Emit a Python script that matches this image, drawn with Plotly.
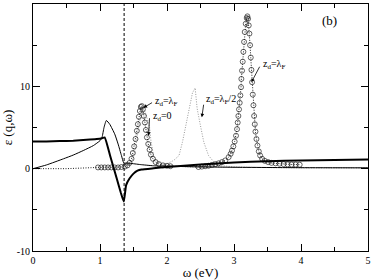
import plotly.graph_objects as go

# ---- data ----
re_x = [0.0, 0.2, 0.4, 0.6, 0.8, 0.95, 1.03, 1.07, 1.15, 1.25, 1.31, 1.355,
        1.39, 1.44, 1.5, 1.56, 1.62, 1.8, 2.0, 2.5, 3.0, 3.5, 4.0, 4.5, 5.0]
re_y = [3.3, 3.3, 3.35, 3.4, 3.5, 3.6, 3.7, 3.8, 1.6, -1.2, -2.9, -4.0,
        -2.0, -1.2, -0.6, -0.25, -0.1, 0.05, 0.2, 0.5, 0.75, 0.9, 1.0, 1.05, 1.1]

im_x = [0.0, 0.2, 0.455, 0.6, 0.75, 0.9, 1.0, 1.03, 1.06, 1.095, 1.145, 1.22,
        1.27, 1.32, 1.355, 1.4, 1.45, 1.6, 1.8, 2.0, 2.5, 3.0, 4.0, 5.0]
im_y = [0.0, 0.45, 1.2, 1.65, 2.2, 2.8, 3.4, 3.8, 5.0, 5.85, 5.4, 4.2,
        3.0, 1.6, 0.7, 0.68, 0.65, 0.5, 0.35, 0.3, 0.22, 0.17, 0.12, 0.1]

circ_x = [0.0, 0.5, 0.97, 1.02, 1.07, 1.12, 1.17, 1.22, 1.27, 1.32, 1.37, 1.41,
          1.44, 1.47, 1.49, 1.51, 1.53, 1.55, 1.565, 1.58, 1.595, 1.61, 1.625,
          1.64, 1.655, 1.67, 1.685, 1.70, 1.72, 1.74, 1.76, 1.79, 1.83, 1.88,
          1.94, 2.0, 2.05, 2.47, 2.52, 2.57, 2.62, 2.67, 2.72, 2.77, 2.82,
          2.87, 2.92, 2.95, 2.97, 2.99, 3.01, 3.03, 3.045, 3.055, 3.065, 3.075,
          3.085, 3.095, 3.105, 3.11, 3.12, 3.13, 3.14, 3.15, 3.16, 3.175, 3.19,
          3.20, 3.21, 3.22, 3.23, 3.24, 3.25, 3.26, 3.27, 3.28, 3.29, 3.30,
          3.31, 3.32, 3.335, 3.35, 3.37, 3.39, 3.42, 3.46, 3.51, 3.56, 3.62,
          3.68, 3.74, 3.80, 3.86, 3.92, 3.98]
circ_y = [0.0, 0.0, 0.15, 0.15, 0.15, 0.15, 0.15, 0.15, 0.15, 0.2, 0.25, 0.4,
          0.7, 1.2, 1.9, 2.7, 3.6, 4.6, 5.4, 6.3, 7.0, 7.5, 7.6,
          7.2, 6.4, 5.6, 4.7, 3.8, 3.0, 2.3, 1.7, 1.2, 0.8, 0.55,
          0.4, 0.35, 0.3, 0.2, 0.25, 0.3, 0.35, 0.45, 0.55, 0.65, 0.8,
          1.0, 1.4, 1.8, 2.2, 2.7, 3.3, 4.0, 4.8, 5.6, 6.4, 7.2,
          8.0, 8.9, 9.9, 10.9, 11.9, 13.0, 14.2, 15.4, 16.6, 17.6, 18.3,
          18.5, 18.2, 17.4, 16.4, 15.0, 13.5, 12.0, 10.5, 9.0, 7.7, 6.4,
          5.4, 4.5, 3.6, 2.8, 2.1, 1.6, 1.2, 0.95, 0.8, 0.7, 0.65,
          0.6, 0.55, 0.52, 0.5, 0.5, 0.48]

z0_x = [1.40, 1.46, 1.50, 1.54, 1.58, 1.62, 1.645, 1.67, 1.70, 1.74, 1.76,
        1.80, 1.85, 1.92, 2.0, 2.1, 2.3, 2.6, 3.0, 4.0, 5.0]
z0_y = [0.1, 0.6, 1.4, 3.0, 5.2, 7.0, 7.3, 7.0, 6.2, 5.0, 3.4,
        1.5, 0.9, 0.6, 0.45, 0.35, 0.25, 0.2, 0.15, 0.12, 0.1]

zh_x = [1.9, 2.0, 2.1, 2.18, 2.23, 2.28, 2.33, 2.38, 2.42, 2.45, 2.5, 2.55,
        2.62, 2.7, 2.77, 2.87, 3.0, 3.3, 3.6, 4.0, 5.0]
zh_y = [0.3, 0.6, 1.0, 1.6, 3.2, 5.2, 7.3, 9.2, 9.8, 7.3, 5.2, 3.2,
        1.6, 0.8, 0.4, 0.3, 0.22, 0.15, 0.12, 0.1, 0.1]

dash_x = 1.36

x_ticks = [0, 1, 2, 3, 4, 5]
x_tick_text = ["0", "1", "2", "3", "4", "5"]
y_ticks = [-10, 0, 10, 20]
y_tick_text = ["-10", "0", "10", "20"]

FONT = "Liberation Serif"

fig = go.Figure()

# grey dotted curves
fig.add_trace(go.Scatter(x=z0_x, y=z0_y, mode="lines",
                         line=dict(color="#999999", width=1, dash="1px,1.5px")))
fig.add_trace(go.Scatter(x=zh_x, y=zh_y, mode="lines",
                         line=dict(color="#999999", width=1, dash="1px,1.5px")))

# circles with dotted line
msize = [0 if v < 0.9 else 5 for v in circ_x]
fig.add_trace(go.Scatter(x=circ_x, y=circ_y, mode="lines+markers",
                         line=dict(color="#222222", width=1, dash="1px,1.5px"),
                         marker=dict(symbol="circle-open", size=msize,
                                     color="#222222", line=dict(width=1))))

# thin curve
fig.add_trace(go.Scatter(x=im_x, y=im_y, mode="lines",
                         line=dict(color="black", width=1, shape="spline", smoothing=0.5)))
# thick curve
fig.add_trace(go.Scatter(x=re_x, y=re_y, mode="lines",
                         line=dict(color="black", width=2, shape="spline", smoothing=0.4)))

# dashed vertical line
fig.add_shape(type="line", x0=dash_x, x1=dash_x, y0=-10, y1=20, xref="x", yref="y",
              line=dict(color="black", width=1, dash="3px,2px"))

lab_font = dict(family=FONT, size=10, color="black")
labels = [
    ("z<sub>d</sub>=λ<sub>F</sub>", 1.795, 8.1),
    ("z<sub>d</sub>=0", 1.765, 6.3),
    ("z<sub>d</sub>=λ<sub>F</sub>/2", 2.55, 8.4),
    ("z<sub>d</sub>=λ<sub>F</sub>", 3.41, 12.7),
]
for t, x, y in labels:
    fig.add_annotation(x=x, y=y, text=t, showarrow=False, xanchor="left",
                       yanchor="middle", font=lab_font)

arrows = [
    (1.65, 7.4, 10, -6),
    (1.725, 4.0, 1, -19),
    (2.52, 6.25, 2, -14),
    (3.26, 10.5, 9, -17),
]
for x, y, ax, ay in arrows:
    fig.add_annotation(x=x, y=y, ax=ax, ay=ay, text="", showarrow=True,
                       arrowhead=2, arrowsize=0.9, arrowwidth=0.8, arrowcolor="black")

fig.add_annotation(x=4.43, y=18.0, text="(b)", showarrow=False,
                   font=dict(family=FONT, size=13, color="black"))

axis_common = dict(showgrid=False, zeroline=False, showline=True, linecolor="black",
                   linewidth=1, mirror="ticks", ticks="inside", ticklen=7,
                   tickcolor="black", tickwidth=1,
                   tickfont=dict(family=FONT, size=10, color="black"))

fig.update_xaxes(range=[0, 5], tickvals=x_ticks, ticktext=x_tick_text,
                 minor=dict(ticks="inside", ticklen=4, dtick=0.5, tickcolor="black"),
                 title=dict(text="ω (eV)", font=dict(family=FONT, size=13, color="black"),
                            standoff=2),
                 **axis_common)
fig.update_yaxes(range=[-10, 20], tickvals=y_ticks, ticktext=y_tick_text,
                 minor=dict(ticks="inside", ticklen=4, dtick=5, tickcolor="black"),
                 title=dict(text="ε (q,ω)", font=dict(family=FONT, size=13, color="black"),
                            standoff=2),
                 **axis_common)

fig.update_layout(width=374, height=280, showlegend=False,
                  margin=dict(l=33, r=3, t=4, b=28),
                  paper_bgcolor="white", plot_bgcolor="white")

fig.write_html("out.html", config={"displayModeBar": False},
               post_script="document.body.style.margin='0';")
